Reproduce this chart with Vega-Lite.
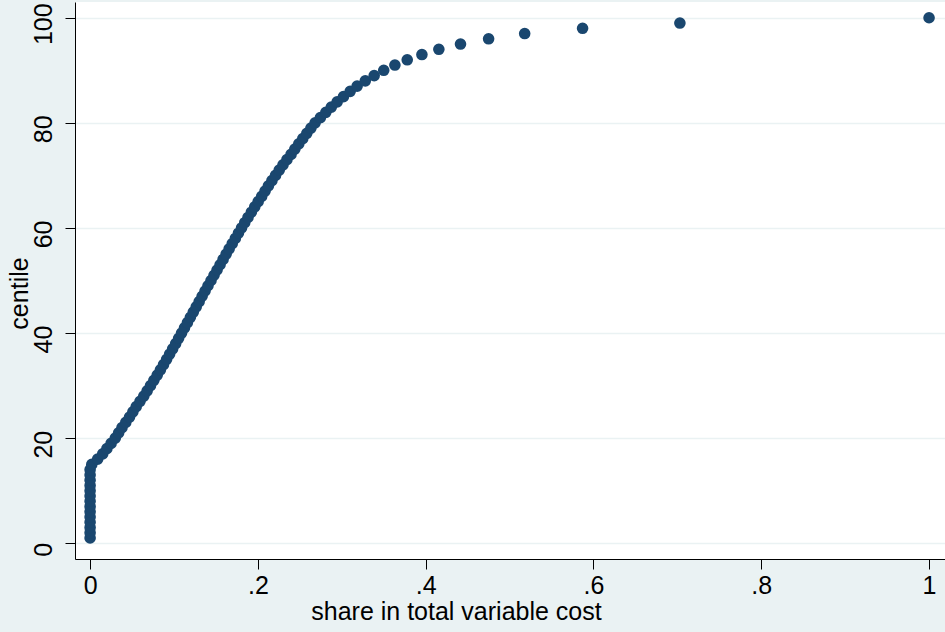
{
  "$schema": "https://vega.github.io/schema/vega-lite/v6.json",
  "width": 870,
  "height": 557,
  "autosize": {"type": "none"},
  "padding": {"left": 75, "top": 2, "right": 0, "bottom": 73},
  "background": "#EAF2F3",
  "config": {
    "view": {"fill": "white", "stroke": null},
    "font": "Liberation Sans",
    "axis": {
      "domainColor": "#000000",
      "domainWidth": 1,
      "tickColor": "#000000",
      "tickWidth": 1,
      "tickSize": 10,
      "labelColor": "#000000",
      "titleColor": "#000000",
      "labelFontSize": 25,
      "titleFontSize": 25,
      "titleFontWeight": "normal",
      "gridColor": "#EAF2F3",
      "gridWidth": 1.5
    }
  },
  "data": {
    "values": [
      {"centile": 1, "share": 0}, {"centile": 2, "share": 0}, {"centile": 3, "share": 0}, {"centile": 4, "share": 0},
      {"centile": 5, "share": 0}, {"centile": 6, "share": 0}, {"centile": 7, "share": 0}, {"centile": 8, "share": 0},
      {"centile": 9, "share": 0}, {"centile": 10, "share": 0}, {"centile": 11, "share": 0}, {"centile": 12, "share": 0},
      {"centile": 13, "share": 0}, {"centile": 14, "share": 0}, {"centile": 15, "share": 0.002},
      {"centile": 16, "share": 0.009}, {"centile": 17, "share": 0.015}, {"centile": 18, "share": 0.02},
      {"centile": 19, "share": 0.025}, {"centile": 20, "share": 0.03}, {"centile": 21, "share": 0.034},
      {"centile": 22, "share": 0.038}, {"centile": 23, "share": 0.0425}, {"centile": 24, "share": 0.047},
      {"centile": 25, "share": 0.051}, {"centile": 26, "share": 0.055}, {"centile": 27, "share": 0.0595},
      {"centile": 28, "share": 0.064}, {"centile": 29, "share": 0.068}, {"centile": 30, "share": 0.072},
      {"centile": 31, "share": 0.076}, {"centile": 32, "share": 0.08}, {"centile": 33, "share": 0.0838},
      {"centile": 34, "share": 0.0875}, {"centile": 35, "share": 0.0912}, {"centile": 36, "share": 0.0948},
      {"centile": 37, "share": 0.0984}, {"centile": 38, "share": 0.102}, {"centile": 39, "share": 0.1055},
      {"centile": 40, "share": 0.109}, {"centile": 41, "share": 0.1125}, {"centile": 42, "share": 0.116},
      {"centile": 43, "share": 0.1195}, {"centile": 44, "share": 0.123}, {"centile": 45, "share": 0.1265},
      {"centile": 46, "share": 0.13}, {"centile": 47, "share": 0.1335}, {"centile": 48, "share": 0.137},
      {"centile": 49, "share": 0.1405}, {"centile": 50, "share": 0.1441}, {"centile": 51, "share": 0.1477},
      {"centile": 52, "share": 0.1513}, {"centile": 53, "share": 0.1549}, {"centile": 54, "share": 0.1585},
      {"centile": 55, "share": 0.1621}, {"centile": 56, "share": 0.1657}, {"centile": 57, "share": 0.1694},
      {"centile": 58, "share": 0.1731}, {"centile": 59, "share": 0.1768}, {"centile": 60, "share": 0.1805},
      {"centile": 61, "share": 0.1843}, {"centile": 62, "share": 0.1882}, {"centile": 63, "share": 0.1922},
      {"centile": 64, "share": 0.1962}, {"centile": 65, "share": 0.2003}, {"centile": 66, "share": 0.2045},
      {"centile": 67, "share": 0.2085}, {"centile": 68, "share": 0.2125}, {"centile": 69, "share": 0.2167},
      {"centile": 70, "share": 0.221}, {"centile": 71, "share": 0.2254}, {"centile": 72, "share": 0.2299},
      {"centile": 73, "share": 0.2346}, {"centile": 74, "share": 0.2395}, {"centile": 75, "share": 0.244},
      {"centile": 76, "share": 0.2487}, {"centile": 77, "share": 0.2535}, {"centile": 78, "share": 0.2583},
      {"centile": 79, "share": 0.2632}, {"centile": 80, "share": 0.2682}, {"centile": 81, "share": 0.2745},
      {"centile": 82, "share": 0.281}, {"centile": 83, "share": 0.2875}, {"centile": 84, "share": 0.2945},
      {"centile": 85, "share": 0.302}, {"centile": 86, "share": 0.31}, {"centile": 87, "share": 0.3183},
      {"centile": 88, "share": 0.328}, {"centile": 89, "share": 0.3386}, {"centile": 90, "share": 0.35},
      {"centile": 91, "share": 0.3633}, {"centile": 92, "share": 0.378}, {"centile": 93, "share": 0.3955},
      {"centile": 94, "share": 0.4157}, {"centile": 95, "share": 0.4415}, {"centile": 96, "share": 0.475},
      {"centile": 97, "share": 0.518}, {"centile": 98, "share": 0.587}, {"centile": 99, "share": 0.703},
      {"centile": 100, "share": 1.0}
    ]
  },
  "mark": {"type": "circle", "size": 135, "color": "#1a476f", "opacity": 1},
  "encoding": {
    "x": {
      "field": "share",
      "type": "quantitative",
      "scale": {"domain": [-0.018, 1.019], "nice": false, "zero": false},
      "axis": {
        "values": [0, 0.2, 0.4, 0.6, 0.8, 1],
        "labelExpr": "replace(format(datum.value, '~g'), '0.', '.')",
        "grid": false,
        "labelPadding": 4,
        "title": "share in total variable cost",
        "titleAnchor": "start",
        "titleAlign": "center",
        "titleX": 381,
        "titleY": 60,
        "titleBaseline": "alphabetic"
      }
    },
    "y": {
      "field": "centile",
      "type": "quantitative",
      "scale": {"domain": [-3, 103], "nice": false, "zero": false},
      "axis": {
        "values": [0, 20, 40, 60, 80, 100],
        "grid": true,
        "labelAngle": -90,
        "labelAlign": "center",
        "labelBaseline": "bottom",
        "labelPadding": 9,
        "labelOffset": 6,
        "title": "centile",
        "titleAngle": -90,
        "titleAlign": "center",
        "titleX": -48,
        "titleY": 291,
        "titleBaseline": "alphabetic"
      }
    }
  }
}
